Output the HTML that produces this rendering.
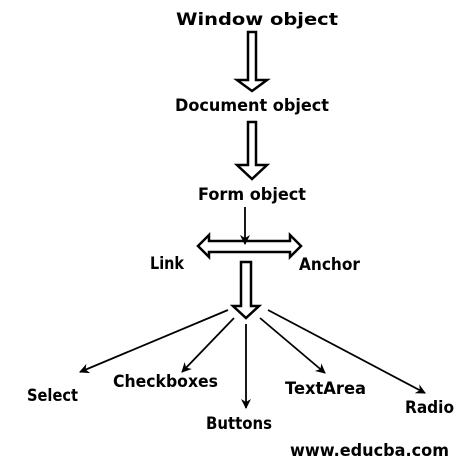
<!DOCTYPE html>
<html><head><style>body{margin:0;background:#fff}svg{display:block}text{font-family:"DejaVu Sans","Liberation Sans",sans-serif;font-weight:bold;font-size:17px;fill:#000}</style></head>
<body>
<svg width="466" height="467" viewBox="0 0 466 467" xmlns="http://www.w3.org/2000/svg">
<defs><marker id="a" markerWidth="12" markerHeight="12" refX="9" refY="6" orient="auto" markerUnits="userSpaceOnUse"><path d="M0,1 L10,6 L0,11 L3,6 Z" fill="#000"/></marker></defs>
<text x="176" y="25" textLength="162" lengthAdjust="spacingAndGlyphs">Window object</text>
<text x="175" y="111" textLength="154" lengthAdjust="spacingAndGlyphs">Document object</text>
<text x="198" y="200" textLength="108" lengthAdjust="spacingAndGlyphs">Form object</text>
<text x="150" y="269" textLength="34" lengthAdjust="spacingAndGlyphs">Link</text>
<text x="299" y="270" textLength="61" lengthAdjust="spacingAndGlyphs">Anchor</text>
<text x="27" y="401" textLength="51" lengthAdjust="spacingAndGlyphs">Select</text>
<text x="113" y="387" textLength="105" lengthAdjust="spacingAndGlyphs">Checkboxes</text>
<text x="206" y="429" textLength="66" lengthAdjust="spacingAndGlyphs">Buttons</text>
<text x="285" y="394" textLength="81" lengthAdjust="spacingAndGlyphs">TextArea</text>
<text x="405" y="413" textLength="49" lengthAdjust="spacingAndGlyphs">Radio</text>
<text x="290" y="456" textLength="159" lengthAdjust="spacingAndGlyphs">www.educba.com</text>
<g fill="#fff" stroke="#000" stroke-width="2.5" stroke-linejoin="miter">
<path d="M248,32 L256,32 L256,80 L267,80 L252,91 L237,80 L248,80 Z"/>
<path d="M248,122 L256,122 L256,165 L267,165 L252,179 L237,165 L248,165 Z"/>
<path d="M198,246 L209,235 L209,241 L290,241 L290,235 L301,246 L290,257 L290,252 L209,252 L209,257 Z"/>
<path d="M241,262 L251,262 L251,306 L259,306 L246,318 L233,306 L241,306 Z"/>
</g>
<g stroke="#000" stroke-width="1.8" fill="none">
<line x1="245" y1="207" x2="245" y2="244" marker-end="url(#a)"/>
<line x1="228" y1="310" x2="80" y2="372" marker-end="url(#a)"/>
<line x1="234" y1="318" x2="182" y2="372" marker-end="url(#a)"/>
<line x1="246" y1="324" x2="246" y2="408" marker-end="url(#a)"/>
<line x1="260" y1="318" x2="325" y2="373" marker-end="url(#a)"/>
<line x1="268" y1="310" x2="425" y2="393" marker-end="url(#a)"/>
</g>
</svg>
</body></html>
